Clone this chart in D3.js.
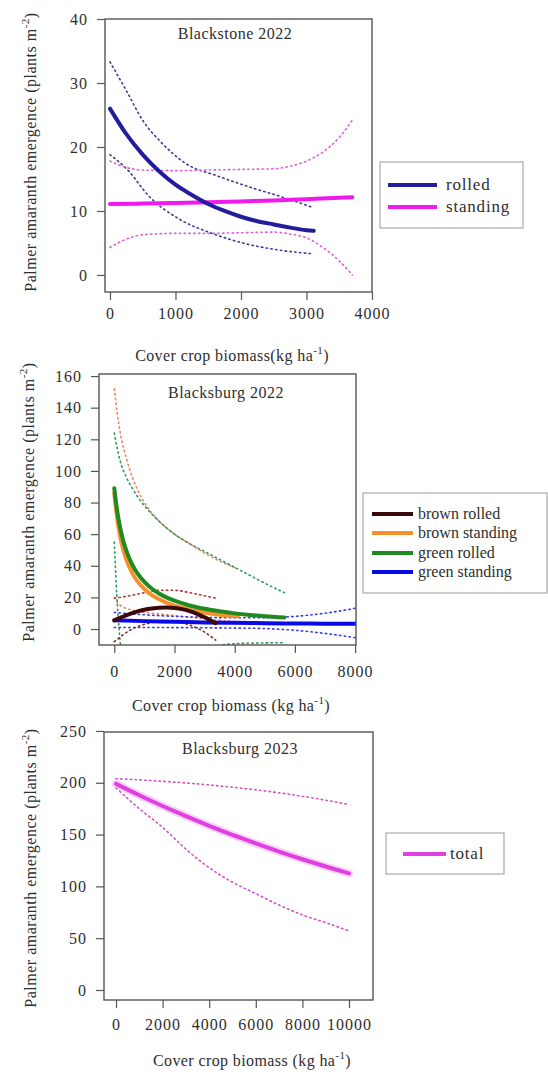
<!DOCTYPE html>
<html>
<head>
<meta charset="utf-8">
<script src="https://cdn.jsdelivr.net/npm/d3@7"></script>
<style>
body { margin: 0; background: #fff; }
svg text { font-family: "Liberation Serif", "Times New Roman", serif; fill: #2e2e2e; }
</style>
</head>
<body>
<svg width="548" height="1072"></svg>
<script>
// ---- Blackstone 2022 ----
let p1RolledX = [0, 250, 500, 750, 1000, 1250, 1500, 1750, 2000, 2250, 2500, 2750, 3000, 3110];
let p1RolledY = [26.0, 22.0, 18.8, 16.2, 14.1, 12.5, 11.1, 10.0, 9.1, 8.4, 7.9, 7.4, 7.0, 6.9];
let p1RolledUpX = [0, 255, 510, 765, 1175, 1634, 2144, 2654, 3110];
let p1RolledUpY = [33.3, 28.7, 24.0, 20.9, 17.3, 15.5, 13.7, 12.1, 10.5];
let p1RolledLoX = [0, 280, 587, 1046, 1557, 2067, 2578, 3110];
let p1RolledLoY = [18.8, 16.3, 12.4, 8.8, 6.5, 4.9, 3.9, 3.3];
let p1StandX = [0, 500, 1000, 1500, 2000, 2500, 3000, 3500, 3700];
let p1StandY = [11.1, 11.15, 11.25, 11.35, 11.5, 11.65, 11.85, 12.05, 12.15];
let p1StandCiX = [0, 250, 500, 1000, 1500, 2000, 2500, 2750, 3000, 3250, 3500, 3700];
let p1StandUpY = [17.8, 16.8, 16.4, 16.3, 16.4, 16.5, 16.6, 17.0, 17.8, 19.2, 21.5, 24.2];
let p1StandLoY = [4.3, 5.6, 6.3, 6.5, 6.5, 6.6, 6.7, 6.4, 5.8, 4.3, 2.2, 0.0];

// ---- Blacksburg 2022 ----
let p2BrownRolledX = [0, 250, 500, 750, 1000, 1250, 1500, 1750, 2000, 2250, 2500, 2750, 3000, 3250, 3370];
let p2BrownRolledY = [5.5, 7.6, 9.5, 11.0, 12.2, 13.0, 13.5, 13.6, 13.3, 12.6, 11.3, 9.6, 7.4, 4.9, 3.7];
let p2BrownRolledCiX = [0, 500, 1000, 1500, 2000, 2500, 3000, 3370];
let p2BrownRolledUpY = [19.5, 21, 23, 24.5, 24.5, 23, 21, 19.5];
let p2BrownRolledLoY = [-8, -1, 3, 4.5, 4.5, 2.5, -2, -7];
let p2BrownStandX = [0, 100, 200, 300, 400, 600, 800, 1000, 1250, 1500, 2000, 2500, 3000, 3500, 4100];
let p2BrownStandY = [86, 69.4, 58.1, 50.0, 43.9, 35.2, 29.5, 25.3, 21.5, 18.7, 14.8, 12.3, 10.5, 9.1, 7.9];
let p2BrownStandCiX = [0, 100, 200, 400, 600, 800, 1000, 1500, 2000, 2500, 3000, 3500, 4100];
let p2BrownStandUpY = [152, 136, 124, 108, 96, 87, 80, 68, 60, 54, 48, 43, 38];
let p2BrownStandLoY = [20, 17, 15, 13, 12, 11, 10.5, 9.5, 8.5, 7.5, 6.5, 5.5, 4.5];
let p2GreenRolledX = [0, 100, 200, 300, 400, 600, 800, 1000, 1250, 1500, 2000, 2500, 3000, 3500, 4000, 4500, 5000, 5650];
let p2GreenRolledY = [89, 74.2, 63.7, 55.7, 49.6, 40.6, 34.4, 29.8, 25.5, 22.3, 17.9, 14.9, 12.8, 11.2, 9.9, 8.9, 8.1, 7.3];
let p2GreenRolledUpX = [0, 100, 200, 400, 600, 800, 1000, 1500, 2000, 2500, 3000, 3500, 4000, 4500, 5000, 5650];
let p2GreenRolledUpY = [124, 114, 106, 96, 89, 83, 78, 68, 60, 54, 49, 44, 39, 34, 29, 23];
let p2GreenRolledLoX = [0, 40, 80, 120, 160, 220, 600, 1500, 2500, 3200, 3600, 4000, 5000, 5650];
let p2GreenRolledLoY = [55, 38, 22, 10, 0, -12, -25, -30, -22, -14, -10, -9.3, -8.8, -8.6];
let p2GreenStandX = [0, 1000, 2000, 3000, 4000, 5000, 6000, 7000, 8000, 8300];
let p2GreenStandY = [5.6, 5.0, 4.6, 4.2, 3.9, 3.7, 3.5, 3.4, 3.3, 3.3];
let p2GreenStandUpY = [10.5, 9, 8, 7.4, 7.1, 7.2, 8.0, 10.0, 13.2, 14.5];
let p2GreenStandLoY = [1.0, 1.0, 0.9, 0.8, 0.6, 0.3, -0.8, -2.8, -5.5, -6.5];

// ---- Blacksburg 2023 ----
let p3X = [0, 1000, 2000, 3000, 4000, 5000, 6000, 7000, 8000, 9000, 10000];
let p3TotalY = [199, 188.0, 177.6, 167.8, 158.5, 149.7, 141.5, 133.6, 126.2, 119.2, 112.6];
let p3TotalUpY = [204, 202.8, 201.4, 199.8, 197.9, 195.7, 193.2, 190.3, 187, 183.2, 179];
let p3TotalLoY = [195, 175, 157, 136, 118, 104, 93, 82, 72.5, 65, 57];

// ticks
let p1XTicks = [0, 1000, 2000, 3000, 4000];
let p1YTicks = [0, 10, 20, 30, 40];
let p2XTicks = [0, 2000, 4000, 6000, 8000];
let p2YTicks = [0, 20, 40, 60, 80, 100, 120, 140, 160];
let p3XTicks = [0, 2000, 4000, 6000, 8000, 10000];
let p3YTicks = [0, 50, 100, 150, 200, 250];

let svg = d3.select("svg");
let serif = "'Liberation Serif', 'Times New Roman', serif";

function zip(xs, ys) {
  return xs.map(function(x, i) { return {x: x, y: ys[i]}; });
}

let dotted = "1.4 3.4";

let panels = [
  {
    box: {l: 105, r: 372, t: 19, b: 292},
    xDomain: [-76, 4000], yDomain: [-2.66, 40],
    xTicks: p1XTicks, yTicks: p1YTicks, xPad: 7.6,
    title: "Blackstone 2022", titleX: 235, titleY: 39,
    xLabel: "Cover crop biomass(kg ha", xLabelX: 232, xLabelY: 361,
    yLabelX: 36, yLabelY: 152,
    series: [
      {d: zip(p1RolledUpX, p1RolledUpY), c: "#3a3a9a", w: 1.6, dash: dotted},
      {d: zip(p1RolledLoX, p1RolledLoY), c: "#3a3a9a", w: 1.6, dash: dotted},
      {d: zip(p1StandCiX, p1StandUpY), c: "#e060d8", w: 1.6, dash: dotted},
      {d: zip(p1StandCiX, p1StandLoY), c: "#e060d8", w: 1.6, dash: dotted},
      {d: zip(p1StandX, p1StandY), c: "#ee1aee", w: 4},
      {d: zip(p1RolledX, p1RolledY), c: "#231c9c", w: 4}
    ],
    legend: {x: 380, y: 162, w: 143, h: 66, lx1: 388, lx2: 437, tx: 446, fs: 17, ls: 0.8,
      items: [{t: "rolled", c: "#231c9c", y: 185}, {t: "standing", c: "#ee1aee", y: 207}]}
  },
  {
    box: {l: 99, r: 356, t: 374, b: 645},
    xDomain: [-508, 8030], yDomain: [-10.1, 161.3],
    xTicks: p2XTicks, yTicks: p2YTicks, xPad: 12.6,
    title: "Blacksburg 2022", titleX: 226, titleY: 398,
    xLabel: "Cover crop biomass (kg ha", xLabelX: 231, xLabelY: 711,
    yLabelX: 34, yLabelY: 502,
    series: [
      {d: zip(p2BrownStandCiX, p2BrownStandUpY), c: "#f08060", w: 1.6, dash: dotted},
      {d: zip(p2BrownStandCiX, p2BrownStandLoY), c: "#f08060", w: 1.6, dash: dotted},
      {d: zip(p2GreenRolledUpX, p2GreenRolledUpY), c: "#2a9a5a", w: 1.6, dash: dotted},
      {d: zip(p2GreenRolledLoX, p2GreenRolledLoY), c: "#2a9a5a", w: 1.6, dash: dotted},
      {d: zip(p2BrownRolledCiX, p2BrownRolledUpY), c: "#b03030", w: 1.6, dash: dotted},
      {d: zip(p2BrownRolledCiX, p2BrownRolledLoY), c: "#8a2020", w: 1.6, dash: dotted},
      {d: zip(p2GreenStandX, p2GreenStandUpY), c: "#3a3ae0", w: 1.6, dash: dotted},
      {d: zip(p2GreenStandX, p2GreenStandLoY), c: "#3a3ae0", w: 1.6, dash: dotted},
      {d: zip(p2GreenStandX, p2GreenStandY), c: "#0a0ae6", w: 4},
      {d: zip(p2BrownStandX, p2BrownStandY), c: "#f7902a", w: 4},
      {d: zip(p2BrownRolledX, p2BrownRolledY), c: "#3a0808", w: 4},
      {d: zip(p2GreenRolledX, p2GreenRolledY), c: "#1f8a1f", w: 4}
    ],
    legend: {x: 363, y: 493, w: 184, h: 100, lx1: 372, lx2: 413, tx: 418, fs: 16, ls: 0,
      items: [{t: "brown rolled", c: "#3a0808", y: 514}, {t: "brown standing", c: "#f7902a", y: 533},
              {t: "green rolled", c: "#1f8a1f", y: 553}, {t: "green standing", c: "#0a0ae6", y: 572}]}
  },
  {
    box: {l: 104, r: 373, t: 732, b: 1000},
    xDomain: [-515, 11030], yDomain: [-9.65, 249],
    xTicks: p3XTicks, yTicks: p3YTicks, xPad: 10.6,
    title: "Blacksburg 2023", titleX: 240, titleY: 754,
    xLabel: "Cover crop biomass (kg ha", xLabelX: 252, xLabelY: 1066,
    yLabelX: 36, yLabelY: 868,
    series: [
      {d: zip(p3X, p3TotalUpY), c: "#d050c8", w: 1.6, dash: dotted},
      {d: zip(p3X, p3TotalLoY), c: "#d050c8", w: 1.6, dash: dotted},
      {d: zip(p3X, p3TotalY), c: "#f0a0f0", w: 8, op: 0.45},
      {d: zip(p3X, p3TotalY), c: "#e040e0", w: 4}
    ],
    legend: {x: 386, y: 833, w: 118, h: 41, lx1: 403, lx2: 446, tx: 450, fs: 17, ls: 0.8,
      items: [{t: "total", c: "#e040e0", y: 854}]}
  }
];

function drawPanel(p, idx) {
  let x = d3.scaleLinear().domain(p.xDomain).range([p.box.l, p.box.r]);
  let y = d3.scaleLinear().domain(p.yDomain).range([p.box.b, p.box.t]);
  let g = svg.append("g").classed("panel", true);

  g.append("clipPath").attr("id", "clip" + idx)
    .append("rect")
      .attr("x", p.box.l).attr("y", p.box.t)
      .attr("width", p.box.r - p.box.l).attr("height", p.box.b - p.box.t);

  // curves + confidence bands
  let line = d3.line()
    .x(function(d) { return x(d.x); })
    .y(function(d) { return y(d.y); })
    .curve(d3.curveMonotoneX);

  let linesG = g.append("g").attr("clip-path", "url(#clip" + idx + ")");
  p.series.forEach(function(s) {
    linesG.append("path")
      .attr("d", line(s.d))
      .attr("fill", "none")
      .attr("stroke", s.c)
      .attr("stroke-width", s.w)
      .attr("stroke-opacity", s.op || 1)
      .attr("stroke-linecap", "round")
      .attr("stroke-dasharray", s.dash || null);
  });

  // box
  g.append("rect")
    .attr("x", p.box.l).attr("y", p.box.t)
    .attr("width", p.box.r - p.box.l).attr("height", p.box.b - p.box.t)
    .attr("fill", "none").attr("stroke", "#555").attr("stroke-width", 1.4);

  // axes
  let xAxis = g.append("g")
    .attr("transform", "translate(0," + p.box.b + ")")
    .call(d3.axisBottom(x).tickValues(p.xTicks).tickSize(8).tickSizeOuter(0).tickPadding(p.xPad).tickFormat(d3.format("d")));
  let yAxis = g.append("g")
    .attr("transform", "translate(" + p.box.l + ",0)")
    .call(d3.axisLeft(y).tickValues(p.yTicks).tickSize(8).tickSizeOuter(0).tickPadding(9).tickFormat(d3.format("d")));
  [xAxis, yAxis].forEach(function(a) {
    a.attr("font-family", null);
    a.select(".domain").remove();
    a.selectAll(".tick line").attr("stroke", "#555").attr("stroke-width", 1.2);
    a.selectAll(".tick text")
      .attr("fill", "#2e2e2e")
      .style("font-family", serif)
      .style("font-size", "16px")
      .style("letter-spacing", "1px");
  });

  // title
  g.append("text")
    .attr("x", p.titleX).attr("y", p.titleY)
    .attr("text-anchor", "middle")
    .style("font-family", serif)
    .style("font-size", "16px").style("letter-spacing", "0.5px")
    .text(p.title);

  // x label
  let xl = g.append("text")
    .attr("x", p.xLabelX).attr("y", p.xLabelY)
    .attr("text-anchor", "middle")
    .style("font-family", serif)
    .style("font-size", "16px").style("letter-spacing", "0.4px");
  xl.append("tspan").text(p.xLabel);
  xl.append("tspan").attr("dy", -7).style("font-size", "11px").text("-1");
  xl.append("tspan").attr("dy", 7).text(")");

  // y label
  let yl = g.append("text")
    .attr("transform", "translate(" + p.yLabelX + "," + p.yLabelY + ") rotate(-90)")
    .attr("text-anchor", "middle")
    .style("font-family", serif)
    .style("font-size", "16px").style("letter-spacing", "0.5px");
  yl.append("tspan").text("Palmer amaranth emergence (plants m");
  yl.append("tspan").attr("dy", -7).style("font-size", "11px").text("-2");
  yl.append("tspan").attr("dy", 7).text(")");

  // legend
  let L = p.legend;
  let lg = g.append("g").classed("legend", true);
  lg.append("rect")
    .attr("x", L.x).attr("y", L.y).attr("width", L.w).attr("height", L.h)
    .attr("fill", "#fff").attr("stroke", "#999").attr("stroke-width", 1);
  L.items.forEach(function(it) {
    lg.append("line")
      .attr("x1", L.lx1).attr("x2", L.lx2).attr("y1", it.y).attr("y2", it.y)
      .attr("stroke", it.c).attr("stroke-width", 4);
    lg.append("text")
      .attr("x", L.tx).attr("y", it.y + 5)
      .style("font-family", serif)
      .style("font-size", L.fs + "px").style("letter-spacing", L.ls + "px")
      .text(it.t);
  });
}

panels.forEach(drawPanel);
</script>
</body>
</html>
